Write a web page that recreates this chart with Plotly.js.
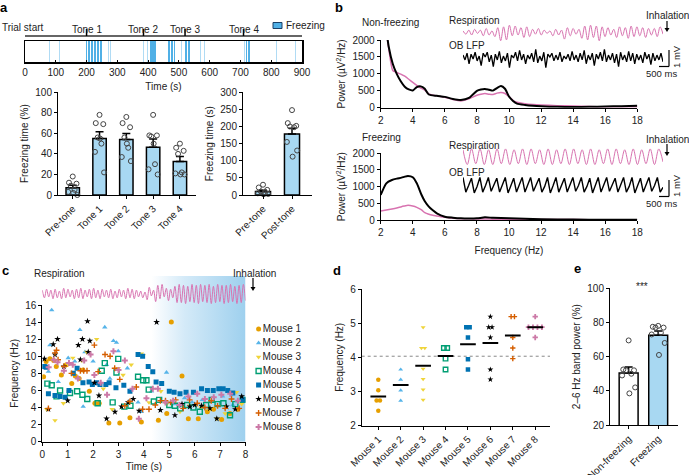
<!DOCTYPE html>
<html><head><meta charset="utf-8">
<script src="https://cdn.plot.ly/plotly-3.0.1.min.js"></script>
<style>html,body{margin:0;padding:0;background:#fff}#chart{width:689px;height:475px}</style>
</head><body><div id="chart"></div>
<script>
// ---------------- DATA ----------------
// a: freezing epochs in the trial timeline (start s, duration s)
const freezeStart = [79,112,119,136,139,168,199,206,213,225,235,243,271,276,385,396,406,413,422,447,466,474,483,507,521,529,569,582,600,613,629,711,717,724,816,878];
const freezeDur   = [2,2,2,2,2,2.5,4,4,8,7,6,6,2.5,2,2,2,6,8,5,2,6,8,5,2,6,8,2,2,2.5,2,2,3,4,6,2.5,2];
const toneTimes = [200,385,520,710];
const toneNames = ['Tone 1','Tone 2','Tone 3','Tone 4'];
const timelineTicks = [0,100,200,300,400,500,600,700,800,900];

// a: freezing time per epoch
const catA1 = ['Pre-tone','Tone 1','Tone 2','Tone 3','Tone 4'];
const meanA1 = [7,55,54,46.5,32.5];
const semA1 = [2.5,6.5,6,8,5];
const dotsA1 = [[18,12,11,9,5,3,0,2],[78,70,69,56,50,42,22,55],[76,70,66,56,46,37,33,50],[78,58,58,57,30,25,20,50],[50,46,43,40,22,21,20,20]];
const catA2 = ['Pre-tone','Post-tone'];
const meanA2 = [10,178];
const semA2 = [4,17];
const dotsA2 = [[30,22,15,10,8,5,3,2],[248,210,202,200,198,155,130,112]];

// b: power spectra
const freqNF = [2,2.25,2.5,2.75,3,3.25,3.5,3.75,4,4.25,4.5,4.75,5,5.5,6,6.5,7,7.5,8,8.25,8.5,8.75,9,9.25,9.5,9.75,10,10.25,10.5,11,11.5,12,13,14,15,16,17,18];
const nfLFP  = [3300,2650,1800,1300,1000,780,620,540,510,610,630,560,390,350,320,260,230,290,500,540,555,530,505,580,640,560,330,200,120,80,55,40,25,20,25,35,45,55];
const nfResp = [3100,2550,1750,1100,1040,990,930,840,750,660,580,520,410,350,310,240,200,260,370,400,420,400,390,430,450,420,330,220,160,120,95,80,60,50,35,25,25,30];
const freqF = [2,2.35,2.7,3,3.3,3.5,3.7,4,4.25,4.55,4.75,5,5.25,5.5,6,6.5,7,7.5,8,8.5,9,10,11,12,14,16,18];
const fLFP  = [750,1100,1200,1240,1270,1300,1320,1280,1100,750,560,400,290,200,100,70,50,45,50,80,65,50,35,20,12,10,10];
const fResp = [270,300,330,360,400,420,440,420,380,300,220,170,140,120,80,55,40,35,30,28,26,25,20,15,12,10,10];

// b: example traces (alternating extremes, arbitrary units)
const respNF = [0.2,-0.2,0.3,-0.3,0.4,-0.1,0.3,-0.4,0.5,-0.3,0.2,-0.5,0.6,-1.0,0.7,-0.9,0.9,-0.4,0.8,-0.3,0.6,-0.6,0.7,-0.5,0.4,-0.2,0.5,-0.3,0.3,-0.1,0.2,-0.4,0.4,-0.3,0.3,-0.8,0.6,-0.4,0.5,-0.2,0.4,-0.7,0.8,-0.9,0.9,-0.6,0.8,-1.0,0.7,-0.5,0.6,-0.3,0.4,-0.6,0.7,-0.4,0.6,-0.7,0.8,-0.5,0.7,-0.4,0.6,-0.6,0.5,-0.3,0.5,-0.5,0.7,-0.2];
const lfpNF = [0.3,-0.2,0.5,-0.6,0.4,-0.1,0.6,-0.3,0.2,-0.8,0.5,0.1,0.6,-0.4,0.3,-0.9,0.4,-0.2,0.7,-0.5,0.2,-0.3,0.5,-1.0,0.3,0.0,0.6,-0.3,0.8,-0.2,0.4,-0.6,0.3,-0.1,0.5,-0.4,0.9,-0.5,0.2,-0.3,0.6,-1.0,0.4,0.1,0.5,-0.3,0.3,-0.2,0.6,-0.4,0.2,-0.1,0.4,-0.3,0.7,-0.2,0.3,-0.4,0.5,-0.2,0.8,-0.6,0.3,-0.2,0.5,-0.8,0.4,-0.1,0.6,-0.3,0.9,-0.4,0.3,-0.2,0.5,-0.5,0.4,-0.9,0.6,-0.2,0.3,-0.4,0.7,-0.3,0.5,-0.6,0.4,-0.2,0.3,-0.5,0.6,-0.1,0.4,-0.7,0.5,-0.3,0.3,-0.2,0.5,-0.4];
const respF = [0.8,-0.9,0.9,-0.8,0.9,-0.9,0.8,-0.9,0.9,-0.8,0.9,-0.9,0.8,-0.8,0.9,-0.9,0.9,-0.8,0.8,-0.9,0.9,-0.9,0.8,-0.8,0.9,-0.9,0.9,-0.8,0.8,-0.9,0.9,-0.9,0.8,-0.8,0.9,-0.9,0.9,-0.8,0.8,-0.9,0.9,-0.9,0.8,-0.8,0.9,-0.9,0.9,-0.6];
const lfpF = [0.9,-0.9,-0.1,0.8,-1.0,-0.2,0.9,-0.9,-0.1,0.9,-0.8,0.0,0.8,-0.9,-0.1,0.9,-1.0,-0.2,0.8,-0.9,-0.1,0.9,-0.9,0.0,0.9,-0.8,-0.1,0.8,-0.9,-0.2,0.9,-1.0,-0.1,0.9,-0.9,0.0,0.8,-0.9,-0.1,0.9,-0.8,-0.1,0.9,-0.9,-0.2,0.8,-1.0,-0.1,0.9,-0.9,0.0,0.9,-0.8,-0.1,0.8,-0.9,-0.1,0.9,-0.9,-0.2,0.9,-1.0,-0.1,0.8,-0.9,0.0,0.9,-0.8,-0.1,0.9,-0.9,-0.3];

// c: respiration example and instantaneous frequency per mouse
const respC = [0.4,-0.4,0.5,-0.3,0.4,-0.5,0.5,-0.4,0.3,-0.5,0.6,-0.4,0.5,-0.3,0.4,-0.5,0.5,-0.4,0.6,-0.5,0.4,-0.3,0.5,-0.5,0.6,-0.4,0.4,-0.5,0.5,-0.3,0.4,-0.4,0.5,-0.5,0.3,-0.4,0.5,-0.3,0.4,-0.5,0.6,-0.4,0.5,-0.5,0.4,-0.3,0.3,-0.4,
  0.2,-0.6,0.7,-0.2,0.4,-0.8,0.9,-0.5,1.0,-0.3,0.6,-0.7,0.5,-0.4,0.8,-0.9,
  1.0,-0.9,0.9,-1.0,0.8,-0.8,1.0,-0.9,0.9,-1.0,1.0,-0.8,0.9,-0.9,1.0,-1.0,0.8,-0.9,1.0,-0.8,0.9,-1.0,0.9,-0.9,1.0,-0.8,0.8,-1.0,0.9,-0.9,1.0,-0.7];
const freezeOnset = 4.3;
const mice = ['Mouse 1','Mouse 2','Mouse 3','Mouse 4','Mouse 5','Mouse 6','Mouse 7','Mouse 8'];
const cT = [
 [0.05,0.15,0.3,0.45,0.55,0.75,0.95,1.16,1.3,1.45,1.6,1.85,2.07,2.24,2.62,3.05,3.45,3.9,4.57,4.9,5.08,5.5,5.75,6.14,6.5,6.74,7.06,7.39,7.7],
 [0.24,0.3,0.37,0.63,1.02,1.28,1.48,1.61,1.68,2.0,2.46,2.53,2.66,2.8,2.92,2.99,3.35,3.77,3.9,4.3,4.89,5.2,5.6,5.9,6.3,6.7,7.1,7.5,7.8],
 [0.17,0.5,0.83,1.0,1.2,1.55,1.75,2.14,2.4,2.75,2.99,3.18,3.5,3.9,3.97,4.2,4.67,4.9,5.42,5.8,6.25,6.6,6.87,7.2,7.65,7.85],
 [0.2,0.37,0.56,0.7,1.09,1.37,1.58,1.77,2.18,2.34,2.46,2.77,2.92,2.99,3.23,3.47,3.77,3.97,4.1,4.19,4.39,4.6,5.0,5.22,5.43,5.7,5.95,6.2,6.45,6.67,6.9,7.13,7.39,7.6,7.9],
 [0.08,0.15,0.24,0.5,0.7,0.9,1.05,1.22,1.37,1.6,1.84,1.97,2.14,2.27,2.5,2.63,2.9,3.21,3.45,3.77,3.95,4.17,4.35,4.48,4.7,5.0,5.19,5.42,5.66,5.95,6.27,6.5,6.73,6.95,7.12,7.3,7.5,7.9],
 [0.08,0.24,0.43,0.5,0.6,0.85,1.0,1.42,1.5,1.58,1.78,1.81,1.87,2.05,2.23,2.53,2.86,3.12,3.38,3.58,3.81,4.5,4.65,5.22,5.5,5.81,6.0,6.27,6.6,6.87,7.25,7.6,7.85],
 [0.24,0.5,0.56,0.62,0.85,1.15,1.5,1.63,1.76,2.05,2.2,2.47,2.67,2.85,3.05,3.25,3.45,3.7,3.95,4.2,4.45,4.65,4.85,5.05,5.25,5.55,5.8,6.1,6.4,6.65,6.9,7.2,7.45,7.75],
 [0.25,0.45,0.6,0.85,1.05,1.2,1.4,1.65,1.9,2.05,2.3,2.55,2.8,3.0,3.25,3.55,3.8,4.1,4.35,4.55,4.85,5.15,5.4,5.75,6.1,6.4,6.75,7.05,7.4,7.7]
];
const cF = [
 [7.6,9.4,9.7,9.5,8.8,7.8,9.0,6.8,7.7,7.4,8.4,5.9,4.5,4.5,2.2,2.2,2.8,2.3,2.5,3.3,14.0,7.7,2.7,2.7,3.5,3.8,2.6,3.3,3.8],
 [8.2,11.3,15.4,7.0,9.8,9.4,13.1,4.1,10.5,9.4,13.4,9.0,7.4,11.8,11.6,10.6,8.6,4.6,3.5,5.9,8.1,4.4,5.1,4.6,4.9,4.7,5.3,4.3,4.9],
 [3.8,2.5,4.5,9.1,9.8,9.5,10.5,12.0,6.2,3.8,8.6,7.8,9.0,10.3,10.1,4.6,5.9,4.4,3.5,4.2,4.0,3.8,2.7,3.3,5.8,4.4],
 [6.8,6.6,5.3,6.0,5.7,5.9,5.5,5.0,4.5,8.3,9.2,4.6,8.1,9.7,4.1,4.2,7.6,7.2,7.2,6.1,4.7,4.9,4.3,4.2,3.9,4.3,4.0,3.5,4.3,4.9,4.4,4.5,3.1,4.4,4.9],
 [8.8,8.7,5.6,5.4,5.3,5.2,6.0,8.0,8.6,6.9,7.0,6.7,6.9,6.7,6.7,6.9,6.3,6.6,5.9,10.2,10.0,8.8,8.2,7.0,6.8,5.9,5.8,5.6,5.8,5.8,6.2,6.0,6.0,6.2,6.2,6.0,5.7,4.9],
 [9.7,3.8,11.4,10.2,12.0,8.8,4.8,11.3,9.6,12.0,14.1,10.5,11.8,6.9,5.4,2.7,3.5,4.1,4.6,5.0,3.6,14.0,3.7,3.1,4.4,4.1,4.3,4.2,3.9,2.7,4.1,3.8,5.3],
 [3.9,10.4,10.7,9.6,8.8,8.0,8.3,8.3,8.3,11.3,8.2,10.2,10.0,8.6,7.3,4.2,4.7,6.4,3.8,3.8,4.3,4.8,4.8,4.6,4.9,3.9,4.9,4.5,4.0,4.8,4.2,3.9,5.0,3.9],
 [8.7,9.6,9.3,8.3,9.2,9.0,7.4,9.5,10.2,7.8,6.9,5.5,10.6,8.4,9.5,6.2,2.7,5.1,6.2,6.2,4.6,4.8,4.3,5.3,5.6,5.0,5.2,5.5,5.6,4.8]
];

// d: mean respiration frequency per freezing epoch, per mouse
const dVals = [
 [3.34,3.03,2.73,2.73,2.43],
 [3.64,3.34,3.03,2.73],
 [4.88,4.27,4.27,3.66,3.36,3.05,2.75],
 [4.27,4.27,3.96,3.64],
 [4.88,4.88,4.58,3.94,3.64],
 [5.19,4.88,4.88,4.58,3.64,3.35],
 [5.19,5.19,4.58,4.27,3.96],
 [5.19,4.88,4.88,4.88,4.88,4.58]
];
const dRef = 4.03;

// e: 2-6 Hz band power
const catE = ['Non-freezing','Freezing'];
const meanE = [50.5,72.5];
const semE = [3.5,2.5];
const dotsE = [[69.5,52.5,52,52,50,49,42,38.5],[78,77.5,77,77,74,73,68,61]];

// ---------------- STYLE / LAYOUT ----------------
const W=689, H=475;
const DX=(a,b)=>[a/W,b/W];
const DY=(t,b)=>[1-b/H,1-t/H];
const px=v=>v/W, py=v=>1-v/H;
const PINK='#D873B0', BARBLUE='rgb(168,216,242)', FREEZE='rgb(80,176,230)';
const mColors=['#E69F00','#56B4E9','#EFD43A','#009E73','#0072B2','#000000','#D55E00','#CC79A7'];
const mSymbols=['circle','triangle-up','triangle-down','square-open','square','star','cross-thin-open','cross'];
const mSizes=[5,4.8,4.8,5,5,5,4.2,5];
const jit=[0,-0.14,0.14,-0.07,0.07,-0.17,0.17,0.02];

const traces=[];
// timeline
traces.push({type:'bar',x:freezeStart.map((s,i)=>s+freezeDur[i]/2),y:freezeStart.map(()=>1),width:freezeDur,
  marker:{color:freezeDur.map(d=>d<=3?'rgba(80,176,230,0.45)':FREEZE),line:{width:0}},xaxis:'x',yaxis:'y',showlegend:false,hoverinfo:'skip'});
// bar charts
function barChart(cats,means,sems,dots,xa,ya,w,col){
  traces.push({type:'bar',x:cats.map((c,i)=>i),y:means,width:w,marker:{color:col,line:{color:'#000',width:1.5}},
    error_y:{type:'data',symmetric:false,array:sems,arrayminus:sems.map(()=>0),color:'#000',thickness:1.5,width:4},
    xaxis:xa,yaxis:ya,showlegend:false,hoverinfo:'skip'});
  const xs=[],ys=[];
  dots.forEach((arr,i)=>arr.forEach((v,k)=>{xs.push(i+jit[k%jit.length]*w/0.5);ys.push(v);}));
  traces.push({type:'scatter',mode:'markers',x:xs,y:ys,marker:{symbol:'circle-open',size:5,color:'#444',line:{width:1}},
    xaxis:xa,yaxis:ya,showlegend:false,hoverinfo:'skip',cliponaxis:false});
}
barChart(catA1,meanA1,semA1,dotsA1,'x2','y2',0.5,BARBLUE);
barChart(catA2,meanA2,semA2,dotsA2,'x3','y3',0.52,BARBLUE);
// spectra
traces.push({type:'scatter',mode:'lines',x:freqNF,y:nfResp,line:{color:PINK,width:1.5,shape:'spline',smoothing:0.6},xaxis:'x4',yaxis:'y4',showlegend:false});
traces.push({type:'scatter',mode:'lines',x:freqNF,y:nfLFP,line:{color:'#000',width:2,shape:'spline',smoothing:0.6},xaxis:'x4',yaxis:'y4',showlegend:false});
traces.push({type:'scatter',mode:'lines',x:freqF,y:fResp,line:{color:PINK,width:1.5,shape:'spline',smoothing:0.6},xaxis:'x5',yaxis:'y5',showlegend:false});
traces.push({type:'scatter',mode:'lines',x:freqF,y:fLFP,line:{color:'#000',width:2,shape:'spline',smoothing:0.6},xaxis:'x5',yaxis:'y5',showlegend:false});
// inset traces
function inset(arr,xa,ya,center,amp,color,w,shape){
  traces.push({type:'scatter',mode:'lines',x:arr.map((v,i)=>i/(arr.length-1)),y:arr.map(v=>center+amp*v),
    line:{color:color,width:w,shape:shape||'linear'},xaxis:xa,yaxis:ya,showlegend:false,hoverinfo:'skip'});
}
inset(respNF,'x6','y6',7.8,1.7,PINK,1,'spline');
inset(lfpNF,'x6','y6',2.5,2.0,'#000',1.3);
inset(respF,'x7','y7',7.7,1.7,PINK,1,'spline');
inset(lfpF,'x7','y7',2.2,1.6,'#000',1.4);
// c gradient
const grad={type:'horizontal',colorscale:[[0,'rgb(255,255,255)'],[0.35,'rgb(212,234,248)'],[1,'rgb(158,208,238)']]};
traces.push({type:'scatter',mode:'lines',x:[freezeOnset,8,8,freezeOnset,freezeOnset],y:[0,0,16,16,0],fill:'toself',fillgradient:grad,
  fillcolor:'rgb(200,228,245)',line:{width:0},xaxis:'x8',yaxis:'y8',showlegend:false,hoverinfo:'skip'});
traces.push({type:'scatter',mode:'lines',x:[freezeOnset,8,8,freezeOnset,freezeOnset],y:[0,0,1,1,0],fill:'toself',fillgradient:grad,
  fillcolor:'rgb(200,228,245)',line:{width:0},xaxis:'x9',yaxis:'y9',showlegend:false,hoverinfo:'skip'});
traces.push({type:'scatter',mode:'lines',x:respC.map((v,i)=>i*8/(respC.length-1)),y:respC.map(v=>0.38+0.33*v),
  line:{color:PINK,width:1,shape:'spline'},xaxis:'x9',yaxis:'y9',showlegend:false,hoverinfo:'skip'});
function mk(i,f){const open=mSymbols[i].indexOf('open')>=0;
  return {symbol:mSymbols[i],size:mSizes[i]*(f||1),color:mColors[i],line:{color:mColors[i],width:open?1.4:0}};}
mice.forEach((m,i)=>{
  traces.push({type:'scatter',mode:'markers',name:m,x:cT[i],y:cF[i],xaxis:'x8',yaxis:'y8',marker:mk(i),showlegend:false,hoverinfo:'skip'});
});
// c legend (one entry per mouse, stacked by index)
mice.forEach((m,i)=>{
  traces.push({type:'scatter',mode:'markers+text',x:[1],y:[i],text:[m],textposition:'middle right',textfont:{size:10,color:'#222'},
    marker:mk(i),xaxis:'x12',yaxis:'y12',showlegend:false,hoverinfo:'skip',cliponaxis:false});
});
// d
traces.push({type:'scatter',mode:'lines',x:[-0.74,7.66],y:[dRef,dRef],line:{color:'#888',width:1,dash:'dot'},xaxis:'x10',yaxis:'y10',showlegend:false,hoverinfo:'skip'});
dVals.forEach((arr,i)=>{
  const xs=[];
  const counts={};arr.forEach(v=>counts[v]=(counts[v]||0)+1);
  const seen={};
  arr.forEach(v=>{const n=counts[v];const k=seen[v]||0;seen[v]=k+1;xs.push(i+(k-(n-1)/2)*0.2*(n>2?1:0.75));});
  traces.push({type:'scatter',mode:'markers',x:xs,y:arr,xaxis:'x10',yaxis:'y10',showlegend:false,hoverinfo:'skip',marker:mk(i,0.9)});
});
const mx=[],my=[];
dVals.forEach((arr,i)=>{const m=arr.reduce((a,b)=>a+b,0)/arr.length;mx.push(i-0.35,i+0.35,null);my.push(m,m,null);});
traces.push({type:'scatter',mode:'lines',x:mx,y:my,line:{color:'#000',width:2},xaxis:'x10',yaxis:'y10',showlegend:false,hoverinfo:'skip'});
// e
traces.push({type:'bar',x:[0,1],y:meanE,width:0.64,marker:{color:['#ffffff',BARBLUE],line:{color:'#000',width:1.5}},
  error_y:{type:'data',symmetric:false,array:semE,arrayminus:semE.map(()=>0),color:'#000',thickness:1.5,width:4},
  xaxis:'x11',yaxis:'y11',showlegend:false,hoverinfo:'skip'});
{const xs=[],ys=[];dotsE.forEach((arr,i)=>arr.forEach((v,k)=>{xs.push(i+jit[k]*1.3);ys.push(v);}));
 traces.push({type:'scatter',mode:'markers',x:xs,y:ys,marker:{symbol:'circle-open',size:5,color:'#444',line:{width:1}},xaxis:'x11',yaxis:'y11',showlegend:false,hoverinfo:'skip',cliponaxis:false});}

// axes
const base={showgrid:false,zeroline:false,showline:true,linecolor:'#000',linewidth:1,ticks:'outside',ticklen:3,tickcolor:'#000',tickwidth:1,
  tickfont:{size:10,color:'#222'},fixedrange:true};
const A=(o)=>Object.assign({},base,o);
const T=(t,s)=>({text:t,font:{size:10,color:'#222'},standoff:s===undefined?4:s});
const layout={
  width:W,height:H,margin:{l:0,r:0,t:0,b:0},paper_bgcolor:'#fff',plot_bgcolor:'rgba(0,0,0,0)',
  font:{family:'Liberation Sans, Arial, sans-serif',size:10,color:'#222'},
  bargap:0,showlegend:false,
  xaxis:A({domain:DX(25,302),range:[0,900],anchor:'y',tickvals:timelineTicks,ticks:'inside',ticklen:2,mirror:true,linewidth:1.5,title:T('Time (s)',6)}),
  yaxis:A({domain:DY(41,62),range:[0,1],anchor:'x',mirror:true,linewidth:1.5,showticklabels:false,ticks:''}),
  xaxis2:A({domain:DX(58,196),range:[-0.55,4.6],anchor:'y2',tickvals:catA1.map((c,i)=>i),ticktext:catA1,tickangle:-45}),
  yaxis2:A({domain:DY(92.3,195),range:[0,100],anchor:'x2',dtick:20,title:T('Freezing time (%)')}),
  xaxis3:A({domain:DX(243,312),range:[-0.69,1.69],anchor:'y3',tickvals:[0,1],ticktext:catA2,tickangle:-45}),
  yaxis3:A({domain:DY(92.3,195),range:[0,300],anchor:'x3',dtick:50,title:T('Freezing time (s)')}),
  xaxis4:A({domain:DX(380.7,637.3),range:[2,18],anchor:'y4',dtick:2}),
  yaxis4:A({domain:DY(40,107.7),range:[0,2000],anchor:'x4',dtick:500,title:T('Power (µV<sup>2</sup>/Hz)')}),
  xaxis5:A({domain:DX(380.7,637.3),range:[2,18],anchor:'y5',dtick:2,title:T('Frequency (Hz)',9)}),
  yaxis5:A({domain:DY(153.3,220),range:[0,2000],anchor:'x5',dtick:500,title:T('Power (µV<sup>2</sup>/Hz)')}),
  xaxis6:{domain:DX(463,663),range:[0,1],anchor:'y6',visible:false,fixedrange:true},
  yaxis6:{domain:DY(22,70),range:[0,10],anchor:'x6',visible:false,fixedrange:true},
  xaxis7:{domain:DX(463,663),range:[0,1],anchor:'y7',visible:false,fixedrange:true},
  yaxis7:{domain:DY(145,196),range:[0,10],anchor:'x7',visible:false,fixedrange:true},
  xaxis8:A({domain:DX(42.3,245.5),range:[0,8],anchor:'y8',dtick:1,title:T('Time (s)',4)}),
  yaxis8:A({domain:DY(305,441.7),range:[0,16],anchor:'x8',dtick:2,title:T('Frequency (Hz)')}),
  xaxis9:{domain:DX(42.3,245.5),range:[0,8],anchor:'y9',visible:false,fixedrange:true},
  yaxis9:{domain:DY(276,305),range:[0,1],anchor:'x9',visible:false,fixedrange:true},
  xaxis10:A({domain:DX(361.7,550),range:[-0.74,7.66],anchor:'y10',tickvals:mice.map((m,i)=>i),ticktext:mice,tickangle:-45}),
  yaxis10:A({domain:DY(289,425.5),range:[2,6],anchor:'x10',dtick:1,title:T('Frequency (Hz)')}),
  xaxis11:A({domain:DX(610,678),range:[-0.63,1.67],anchor:'y11',tickvals:[0,1],ticktext:catE,tickangle:-45}),
  yaxis11:A({domain:DY(288.3,425),range:[20,100],anchor:'x11',dtick:20,title:T('2–6 Hz band power (%)')}),
  xaxis12:{domain:DX(254,300),range:[0,10],anchor:'y12',visible:false,fixedrange:true},
  yaxis12:{domain:DY(322,434),range:[7.5,-0.5],anchor:'x12',visible:false,fixedrange:true},
  shapes:[],annotations:[]
};
const S=layout.shapes, N=layout.annotations;
function txt(x,y,t,o){N.push(Object.assign({xref:'paper',yref:'paper',x:px(x),y:py(y),text:t,showarrow:false,xanchor:'center',yanchor:'middle',font:{size:10,color:'#222'}},o||{}));}
function line(x0,y0,x1,y1,w){S.push({type:'line',xref:'paper',yref:'paper',x0:px(x0),y0:py(y0),x1:px(x1),y1:py(y1),line:{color:'#000',width:w||1}});}
function arrow(x,y0,y1){
  line(x,y0,x,y1-3,1.2);
  S.push({type:'path',xref:'paper',yref:'paper',path:`M ${px(x-2.5)} ${py(y1-4)} L ${px(x+2.5)} ${py(y1-4)} L ${px(x)} ${py(y1)} Z`,fillcolor:'#000',line:{width:0}});
}
// panel letters
[['a',4,7],['b',339,7],['c',5,270],['d',337,270],['e',577,268]].forEach(l=>txt(l[1],l[2],'<b>'+l[0]+'</b>',{font:{size:13,color:'#000'}}));
// timeline decorations
txt(0,27,'Trial start',{xanchor:'left'});
S.push({type:'line',xref:'x',yref:'paper',x0:0,x1:900,y0:py(36),y1:py(36),line:{color:'#333',width:1.5}});
toneTimes.forEach((t,i)=>{S.push({type:'line',xref:'x',yref:'paper',x0:t,x1:t,y0:py(36),y1:py(29),line:{color:'#000',width:1.5}});
  N.push({xref:'x',yref:'paper',x:t,y:py(22),text:toneNames[i],showarrow:false,font:{size:10,color:'#222'}});});
S.push({type:'rect',xref:'paper',yref:'paper',x0:px(273),x1:px(282),y0:py(22.5),y1:py(28.5),fillcolor:FREEZE,line:{color:'#1a3f66',width:1}});
txt(284,25.5,'Freezing',{xanchor:'left'});
// panel b texts
txt(360,23,'Non-freezing',{xanchor:'left'});
txt(447,20,'Respiration',{xanchor:'left'});
txt(447,45.5,'OB LFP',{xanchor:'left'});
txt(667,16,'Inhalation');
arrow(667,21,32);
line(669,50,669,66.5,1.2);line(659,66.5,669,66.5,1.2);
txt(676,57,'1 mV',{textangle:-90,font:{size:9.5,color:'#222'}});
txt(661,74,'500 ms',{font:{size:9.5,color:'#222'}});
txt(360,137.5,'Freezing',{xanchor:'left'});
txt(447,145,'Respiration',{xanchor:'left'});
txt(447,172.5,'OB LFP',{xanchor:'left'});
txt(667,139.5,'Inhalation');
arrow(667,144,156);
line(669,180,669,196.5,1.2);line(659,196.5,669,196.5,1.2);
txt(676,186,'1 mV',{textangle:-90,font:{size:9.5,color:'#222'}});
txt(661,203,'500 ms',{font:{size:9.5,color:'#222'}});
// panel c texts
txt(32,273,'Respiration',{xanchor:'left'});
txt(254,273,'Inhalation');
arrow(253,278,291);
// panel e
txt(642,286,'***');

Plotly.newPlot('chart',traces,layout,{staticPlot:true,displayModeBar:false});
</script></body></html>
